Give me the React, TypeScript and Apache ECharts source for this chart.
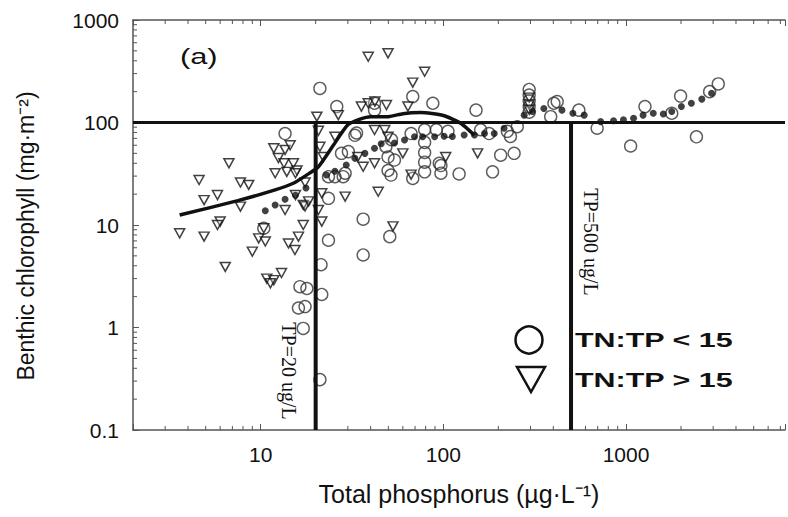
import React, { useEffect, useRef } from 'react';
import * as echarts from 'echarts';

// TN:TP < 15 observations [total phosphorus, benthic chlorophyll]
const lowRatioPoints: number[][] = [
  [13.6, 78], [10.4, 9.3], [16.4, 2.5], [17.9, 2.4], [16.1, 1.55], [17.5, 1.6], [17.1, 0.98], [21.4, 4.1], [21.6, 2.1], [21.1, 0.31],
  [21.1, 215], [26.1, 143], [42, 154], [42, 132], [68, 179], [32.8, 75], [33.5, 79], [27.7, 50], [30.2, 52], [29, 32],
  [48.5, 58], [49.8, 46], [54, 43], [66.6, 78], [36.4, 11.4], [23.5, 7.1], [36.4, 5.1], [50.9, 7.7], [68, 28.5], [51.7, 30.7],
  [49.8, 34], [23.5, 18.2], [23.5, 29.6], [25.5, 29.6], [28.3, 29.6], [87.6, 154], [151, 132], [52, 68], [97, 38],
  [295, 210], [295, 185], [295, 163], [295, 143], [295, 126],
  [403, 154], [387, 114], [254, 91], [233, 73], [206, 48], [244, 50], [186, 33], [122, 31.5], [97, 32], [95, 40],
  [79, 85], [79, 64], [79, 51], [79, 41], [79, 33], [91.5, 85], [106, 82], [160, 85], [178, 78], [224, 82],
  [552, 132], [695, 88], [1060, 59], [1270, 143], [1990, 181], [2870, 200], [3200, 238], [2430, 72.5], [1780, 123], [420, 160],
];

// TN:TP > 15 observations
const highRatioPoints: number[][] = [
  [11.8, 56], [13.6, 54], [14.5, 60], [12.5, 45], [6.7, 40], [12.0, 32], [13.9, 33], [15.1, 40], [4.6, 27.5], [7.75, 26],
  [8.6, 24.6], [4.9, 17.5], [5.8, 19.6], [7.75, 15.1], [13.6, 14], [6.0, 10.8], [5.8, 10], [3.6, 8.3], [4.9, 7.7], [6.4, 3.9],
  [9.0, 5.5], [9.75, 7.4], [10.4, 9.3], [10.6, 6.9], [14.2, 6.6], [15.4, 5.7], [16.1, 7.7], [17.1, 10], [17.1, 15.7], [15.5, 19.6],
  [17.5, 26], [15.8, 34], [10.8, 3.0], [11.8, 2.9], [11.3, 2.7], [13, 3.4], [38.8, 438], [49.8, 473], [79, 313], [68, 245],
  [35.6, 143], [38.8, 154], [42.2, 160], [48.8, 148], [20.3, 114], [26.6, 118], [42, 84.5], [47.8, 84.5], [60, 50], [49.8, 72.5],
  [29, 18.9], [44, 21.1], [36.4, 37], [53, 9.7], [15.5, 32], [17.5, 15.2], [21.6, 10.8], [20.7, 14], [21.6, 20.4], [18.3, 17],
  [154, 50], [103, 46], [25.5, 72.5], [34, 46], [42, 40], [20.7, 83], [21.1, 58], [22, 46], [64, 143], [66.6, 31],
  [13.4, 40], [295, 175], [295, 150], [295, 133],
];

// smoothed fit, TN:TP < 15 (dotted)
const lowRatioFit: number[][] = [
  [10.6, 13.8], [12, 15.7], [13.6, 17.8], [15.5, 19.5], [17.7, 23], [22.9, 30.7], [25.5, 33.5], [29.4, 38.5], [32.8, 44.7],
  [37.2, 50], [42, 56], [45.7, 62], [54, 63], [61.3, 67.6], [69.5, 72.5], [77, 72.5], [89.6, 72.5], [101, 73.5], [112, 73],
  [130, 75.5], [148, 75.5], [168, 78], [190, 78], [215, 88], [277, 118], [307, 128], [355, 137], [446, 132], [512, 123],
  [590, 118], [726, 102], [855, 104], [968, 106], [1100, 110], [1240, 118], [1410, 123], [1600, 121], [1780, 128],
  [2010, 143], [2280, 154], [2600, 169], [2940, 193],
];

// smoothed fit, TN:TP > 15 (solid)
const highRatioFit: number[][] = [
  [3.6, 12.5], [7.5, 17.3], [12, 22], [15.2, 25.7], [18, 31], [20.7, 37], [25, 60], [30, 95], [35, 108], [40, 114],
  [50, 114], [60, 122], [75, 125], [100, 117], [125, 98], [148, 75],
];

const tpThresholds = [20, 500];
const chlThreshold = 100;

const X_MIN = 2;
const X_MAX = 7420;
const Y_MIN = 0.1;
const Y_MAX = 1000;

const xTickValues = [10, 100, 1000];
const xTickLabels = ['10', '100', '1000'];
const yTickValues = [0.1, 1, 10, 100, 1000];
const yTickLabels = ['0.1', '1', '10', '100', '1000'];

const xMinorTicks = [3, 4, 5, 6, 7, 8, 9, 20, 30, 40, 50, 60, 70, 80, 90, 200, 300, 400, 500, 600, 700, 800, 900,
  2000, 3000, 4000, 5000, 6000, 7000];
const yMinorTicks = [0.2, 0.3, 0.4, 0.5, 0.6, 0.7, 0.8, 0.9, 2, 3, 4, 5, 6, 7, 8, 9, 20, 30, 40, 50, 60, 70, 80, 90,
  200, 300, 400, 500, 600, 700, 800, 900];

const FONT = 'Liberation Sans, Arial, sans-serif';
const AXIS_COLOR = '#555';

function labelFor(v: number, values: number[], labels: string[]) {
  for (let i = 0; i < values.length; i++) {
    if (Math.abs(v - values[i]) / values[i] < 1e-6) return labels[i];
  }
  return '';
}

export default function App() {
  const ref = useRef<HTMLDivElement>(null);

  useEffect(() => {
    if (!ref.current) return;
    const chart = echarts.init(ref.current, null, { renderer: 'svg' });

    const textBase = { fill: '#111', fontFamily: FONT };

    const option: any = {
      animation: false,
      backgroundColor: '#fff',
      grid: { left: 133, right: 0, top: 20, bottom: 87 },
      xAxis: [
        {
          type: 'log', logBase: 10, min: X_MIN, max: X_MAX, position: 'bottom',
          axisLine: { lineStyle: { color: AXIS_COLOR, width: 1.5 } },
          axisTick: { inside: true, length: 6, lineStyle: { color: AXIS_COLOR } },
          splitLine: { show: false },
          axisLabel: {
            fontSize: 21, color: '#111', fontFamily: FONT, margin: 14,
            formatter: (v: number) => labelFor(v, xTickValues, xTickLabels),
          },
          name: 'Total phosphorus (µg·L⁻¹)',
          nameLocation: 'middle', nameGap: 51,
          nameTextStyle: { fontSize: 25, color: '#111', fontFamily: FONT },
        },
        {
          type: 'log', logBase: 10, min: X_MIN, max: X_MAX, position: 'top',
          axisLine: { lineStyle: { color: AXIS_COLOR, width: 1.5 } },
          axisTick: { inside: true, length: 6, lineStyle: { color: AXIS_COLOR } },
          axisLabel: { show: false }, splitLine: { show: false },
        },
      ],
      yAxis: {
        type: 'log', logBase: 10, min: Y_MIN, max: Y_MAX,
        axisLine: { lineStyle: { color: AXIS_COLOR, width: 1.5 } },
        axisTick: { inside: true, length: 6, lineStyle: { color: AXIS_COLOR } },
        splitLine: { show: false },
        axisLabel: {
          fontSize: 21, color: '#111', fontFamily: FONT, margin: 14,
          formatter: (v: number) => labelFor(v, yTickValues, yTickLabels),
        },
        name: 'Benthic chlorophyll (mg·m⁻²)',
        nameLocation: 'middle', nameGap: 96,
        nameTextStyle: { fontSize: 23, color: '#111', fontFamily: FONT, padding: [0, 22, 0, 0] },
      },
      graphic: [
        { type: 'text', x: 180, y: 57, scaleX: 1.4,
          style: { ...textBase, text: '(a)', fontSize: 22, textAlign: 'left', textVerticalAlign: 'middle', align: 'left', verticalAlign: 'middle' } },
        { type: 'text', x: 289, y: 371, rotation: -Math.PI / 2,
          style: { text: 'TP=20 ug/L', fill: '#111', fontFamily: 'Liberation Serif, Times New Roman, serif', fontSize: 20,
            textAlign: 'center', textVerticalAlign: 'middle', align: 'center', verticalAlign: 'middle' } },
        { type: 'text', x: 591, y: 242, rotation: -Math.PI / 2,
          style: { text: 'TP=500 ug/L', fill: '#111', fontFamily: 'Liberation Serif, Times New Roman, serif', fontSize: 20,
            textAlign: 'center', textVerticalAlign: 'middle', align: 'center', verticalAlign: 'middle' } },
        { type: 'circle', shape: { cx: 529, cy: 340, r: 13.5 }, style: { fill: 'none', stroke: '#111', lineWidth: 2.5 } },
        { type: 'polygon', shape: { points: [[517, 367], [545, 367], [531, 392]] }, style: { fill: 'none', stroke: '#111', lineWidth: 2.5 } },
        { type: 'text', x: 575, y: 340, scaleX: 1.45,
          style: { ...textBase, text: 'TN:TP < 15', fontSize: 21, fontWeight: 'bold', textAlign: 'left', textVerticalAlign: 'middle', align: 'left', verticalAlign: 'middle' } },
        { type: 'text', x: 575, y: 380, scaleX: 1.45,
          style: { ...textBase, text: 'TN:TP > 15', fontSize: 21, fontWeight: 'bold', textAlign: 'left', textVerticalAlign: 'middle', align: 'left', verticalAlign: 'middle' } },
      ],
      series: [
        {
          type: 'custom', coordinateSystem: 'cartesian2d', silent: true, clip: false,
          data: xMinorTicks.map((v) => [v, Y_MIN]),
          renderItem: (_p: any, api: any) => {
            const v = api.value(0);
            const b = api.coord([v, Y_MIN]);
            const t = api.coord([v, Y_MAX]);
            return {
              type: 'group', children: [
                { type: 'line', shape: { x1: b[0], y1: b[1], x2: b[0], y2: b[1] - 4 }, style: { stroke: AXIS_COLOR, lineWidth: 1 } },
                { type: 'line', shape: { x1: t[0], y1: t[1], x2: t[0], y2: t[1] + 4 }, style: { stroke: AXIS_COLOR, lineWidth: 1 } },
              ],
            };
          },
        },
        {
          type: 'custom', coordinateSystem: 'cartesian2d', silent: true, clip: false,
          data: yMinorTicks.map((v) => [X_MIN, v]),
          renderItem: (_p: any, api: any) => {
            const p = api.coord([X_MIN, api.value(1)]);
            return { type: 'line', shape: { x1: p[0], y1: p[1], x2: p[0] + 4, y2: p[1] }, style: { stroke: AXIS_COLOR, lineWidth: 1 } };
          },
        },
        {
          type: 'line', data: [[X_MIN, chlThreshold], [X_MAX, chlThreshold]], showSymbol: false, silent: true,
          lineStyle: { color: '#111', width: 3 },
        },
        ...tpThresholds.map((tp) => ({
          type: 'line', data: [[tp, chlThreshold], [tp, Y_MIN]], showSymbol: false, silent: true,
          lineStyle: { color: '#111', width: 4 },
        })),
        {
          name: 'TN:TP < 15', type: 'scatter', data: lowRatioPoints, symbol: 'circle', symbolSize: 12,
          itemStyle: { color: 'rgba(0,0,0,0)', borderColor: '#333', borderWidth: 1.4 },
        },
        {
          name: 'TN:TP > 15', type: 'scatter', data: highRatioPoints, symbol: 'triangle', symbolRotate: 180, symbolSize: [10, 9],
          itemStyle: { color: 'rgba(255,255,255,0.3)', borderColor: '#111', borderWidth: 1.5 },
        },
        {
          type: 'scatter', data: lowRatioFit, symbol: 'circle', symbolSize: 7,
          itemStyle: { color: '#111' },
        },
        {
          type: 'line', data: highRatioFit, smooth: 0.2, showSymbol: false,
          lineStyle: { color: '#111', width: 3.5 },
        },
      ],
    };

    chart.setOption(option);
    return () => chart.dispose();
  }, []);

  return <div ref={ref} style={{ position: 'absolute', left: 0, top: 0, width: 788, height: 517 }} />;
}
